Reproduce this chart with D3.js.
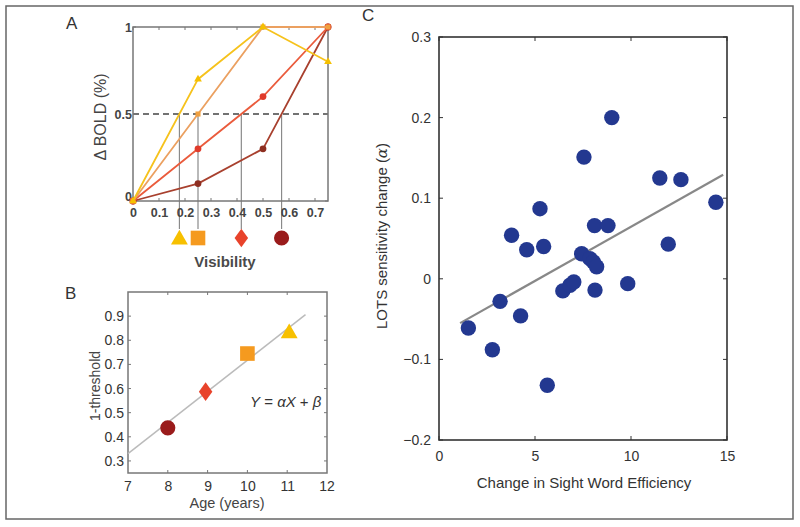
<!DOCTYPE html>
<html><head><meta charset="utf-8">
<script src="https://cdn.jsdelivr.net/npm/d3@7"></script>
<style>body{margin:0;background:#fff}svg{display:block;font-family:"Liberation Sans",Arial,sans-serif}</style>
</head><body><svg id="c" width="800" height="527"></svg>
<script>
// ---------- Data ----------
// Panel A: BOLD response vs visibility for four groups
const visLevels = [0, 0.25, 0.5, 0.75];
const seriesNames = ["age11", "age10", "age9", "age8"];
const boldAge11 = [0, 0.7, 1, 0.8];
const boldAge10 = [0, 0.5, 1, 1];
const boldAge9  = [0, 0.3, 0.6, 1];
const boldAge8  = [0, 0.1, 0.3, 1];
const criterion = 0.5;
const aXTicks = [0, 0.1, 0.2, 0.3, 0.4, 0.5, 0.6, 0.7];
const aYTicks = [0, 0.5, 1];
// Panel B: 1-threshold vs age
const ages = [11.05, 10, 8.95, 8];
const oneMinusThreshold = [0.835, 0.745, 0.587, 0.437];
const fitB = [[7, 0.33], [11.46, 0.906]];
const bXTicks = [7, 8, 9, 10, 11, 12];
const bYTicks = [0.3, 0.4, 0.5, 0.6, 0.7, 0.8, 0.9];
// Panel C: scatter
const swe = [1.53, 2.78, 3.18, 3.78, 4.25, 4.57, 5.26, 5.45, 5.64, 6.45, 6.82, 7.02, 7.43, 7.55, 7.86, 8.04, 8.1, 8.21, 8.125, 8.8, 9.0, 9.83, 11.5, 11.94, 12.6, 14.42];
const lotsChange = [-0.061, -0.088, -0.028, 0.054, -0.046, 0.036, 0.087, 0.04, -0.132, -0.015, -0.008, -0.004, 0.031, 0.151, 0.025, 0.021, 0.066, 0.015, -0.014, 0.066, 0.2, -0.006, 0.125, 0.043, 0.123, 0.095];
const fitC = [[1.1, -0.055], [14.8, 0.129]];
const cXTicks = [0, 5, 10, 15];
const cYTicks = [-0.2, -0.1, 0, 0.1, 0.2, 0.3];

const lineColors = ["#f6c21c", "#eba060", "#ea5b3c", "#a8402e"];
const markColors = ["#f7c000", "#f59a1f", "#e8432b", "#9a1b1b"];
const markShapes = [d3.symbolTriangle, d3.symbolSquare, "diamond", d3.symbolCircle];

const svg = d3.select("#c");
svg.append("rect").attr("x", 6).attr("y", 6).attr("width", 787).attr("height", 513)
  .attr("fill", "none").attr("stroke", "#666").attr("stroke-width", 1.5);

function marker(g, i, x, y, s) {
  const sh = markShapes[i];
  if (sh === "diamond") {
    g.append("path").attr("d", `M${x},${y - s * 0.62}L${x + s * 0.45},${y}L${x},${y + s * 0.62}L${x - s * 0.45},${y}Z`)
      .attr("fill", markColors[i]);
  } else {
    const area = sh === d3.symbolTriangle ? s * s * 0.55 : (sh === d3.symbolSquare ? s * s * 0.95 : s * s * 0.8);
    g.append("path").attr("d", d3.symbol().type(sh).size(area)())
      .attr("transform", `translate(${x},${y + (sh === d3.symbolTriangle ? 1.5 : 0)})`)
      .attr("fill", markColors[i]);
  }
}

function boxAxes(g, x, y, xt, yt, o) {
  const [x0, x1] = x.range(), [y0, y1] = y.range();
  const col = o.col || "#777";
  g.append("rect").attr("x", x0).attr("y", y1).attr("width", x1 - x0).attr("height", y0 - y1)
    .attr("fill", "none").attr("stroke", col).attr("stroke-width", o.sw || 1.5);
  const tl = o.tl || 3;
  xt.forEach(t => {
    g.append("line").attr("x1", x(t)).attr("x2", x(t)).attr("y1", y0).attr("y2", y0 - tl).attr("stroke", col);
    g.append("line").attr("x1", x(t)).attr("x2", x(t)).attr("y1", y1).attr("y2", y1 + tl).attr("stroke", col);
  });
  yt.forEach(t => {
    g.append("line").attr("x1", x0).attr("x2", x0 + tl).attr("y1", y(t)).attr("y2", y(t)).attr("stroke", col);
    g.append("line").attr("x1", x1).attr("x2", x1 - tl).attr("y1", y(t)).attr("y2", y(t)).attr("stroke", col);
  });
  const xa = d3.axisBottom(x).tickValues(xt).tickSize(0).tickPadding(o.xpad).tickFormat(o.xf || (d => d));
  const ya = d3.axisLeft(y).tickValues(yt).tickSize(0).tickPadding(o.ypad).tickFormat(o.yf || (d => d));
  const gx = g.append("g").attr("transform", `translate(0,${y0})`).call(xa);
  const gy = g.append("g").attr("transform", `translate(${x0},0)`).call(ya);
  [gx, gy].forEach(a => {
    a.select(".domain").remove();
    a.selectAll("text").attr("font-size", o.fs).attr("fill", o.tc || "#333")
      .attr("font-weight", o.fw || "normal").attr("font-family", "Liberation Sans, Arial, sans-serif");
  });
  return { gx, gy };
}

// ---------- Panel A ----------
const gA = svg.append("g");
const xA = d3.scaleLinear().domain([0, 0.75]).range([133, 328]);
const yA = d3.scaleLinear().domain([0, 1]).range([201, 27]);
const allA = [boldAge11, boldAge10, boldAge9, boldAge8];

// thresholds from crossing of criterion
const thresholds = allA.map(s => {
  for (let k = 1; k < s.length; k++) {
    if (s[k] >= criterion && s[k - 1] < criterion)
      return visLevels[k - 1] + (criterion - s[k - 1]) / (s[k] - s[k - 1]) * (visLevels[k] - visLevels[k - 1]);
  }
  return null;
});
thresholds.forEach(t => {
  gA.append("line").attr("x1", xA(t)).attr("x2", xA(t)).attr("y1", yA(criterion)).attr("y2", 229)
    .attr("stroke", "#8a8a8a").attr("stroke-width", 1.2);
});
gA.append("line").attr("x1", xA(0)).attr("x2", xA(0.75)).attr("y1", yA(criterion)).attr("y2", yA(criterion))
  .attr("stroke", "#444").attr("stroke-width", 1.6).attr("stroke-dasharray", "6,4");
const axA = boxAxes(gA, xA, yA, aXTicks, aYTicks, { xpad: 7, ypad: 1, fs: 12.5, fw: "bold", tc: "#444", col: "#777" });
// lift the y "0" label slightly so it clears the x "0" label
axA.gy.selectAll(".tick").filter(d => d === 0).select("text").attr("dy", "-0.05em");
const lineA = d3.line().x((d, i) => xA(visLevels[i])).y(d => yA(d));
[3, 2, 1, 0].forEach(i => {
  gA.append("path").attr("d", lineA(allA[i])).attr("fill", "none").attr("stroke", lineColors[i]).attr("stroke-width", 1.8);
  allA[i].forEach((v, k) => {
    if (i === 0 || i === 1) {
      gA.append("path").attr("d", d3.symbol().type(i === 0 ? d3.symbolTriangle : d3.symbolSquare).size(26)())
        .attr("transform", `translate(${xA(visLevels[k])},${yA(v)})`).attr("fill", i === 0 ? "#f5c000" : "#f0a040");
    } else {
      gA.append("circle").attr("cx", xA(visLevels[k])).attr("cy", yA(v)).attr("r", 3.4).attr("fill", i === 2 ? "#e03a2a" : "#8e2e20");
    }
  });
});
thresholds.forEach((t, i) => marker(gA, i, xA(t), 238, 15));
gA.append("text").attr("x", 225).attr("y", 267).attr("text-anchor", "middle").attr("font-size", 15)
  .attr("font-weight", "bold").attr("fill", "#4a4a4a").text("Visibility");
gA.append("text").attr("transform", "translate(106,117) rotate(-90)").attr("text-anchor", "middle")
  .attr("font-size", 16).attr("fill", "#444").text("Δ BOLD (%)");
svg.append("text").attr("x", 66).attr("y", 29).attr("font-size", 17).attr("fill", "#333").text("A");

// ---------- Panel B ----------
const gB = svg.append("g");
const xB = d3.scaleLinear().domain([7, 12]).range([128, 327]);
const yB = d3.scaleLinear().domain([0.25, 1]).range([473, 292]);
boxAxes(gB, xB, yB, bXTicks.slice(1, -1), bYTicks, { xpad: 8, ypad: 4, fs: 14, tc: "#333", col: "#777" });
gB.append("path").attr("d", d3.line().x(d => xB(d[0])).y(d => yB(d[1]))(fitB))
  .attr("stroke", "#bbb").attr("stroke-width", 1.5).attr("fill", "none");
ages.forEach((a, i) => marker(gB, i, xB(a), yB(oneMinusThreshold[i]), 15));
[7, 12].forEach(t => gB.append("text").attr("x", xB(t)).attr("y", yB.range()[0] + 8).attr("dy", "0.71em")
  .attr("text-anchor", "middle").attr("font-size", 14).attr("fill", "#333").text(t));
gB.append("text").attr("x", 227).attr("y", 508).attr("text-anchor", "middle").attr("font-size", 14.5).attr("fill", "#444").text("Age (years)");
gB.append("text").attr("transform", "translate(100,386) rotate(-90)").attr("text-anchor", "middle")
  .attr("font-size", 14).attr("fill", "#444").text("1-threshold");
const eq = gB.append("text").attr("x", 250).attr("y", 407).attr("font-size", 15).attr("fill", "#333");
eq.append("tspan").attr("font-style", "italic").text("Y");
eq.append("tspan").text(" = ");
eq.append("tspan").attr("font-style", "italic").text("αX");
eq.append("tspan").text(" + ");
eq.append("tspan").attr("font-style", "italic").text("β");
svg.append("text").attr("x", 65).attr("y", 299).attr("font-size", 17).attr("fill", "#333").text("B");

// ---------- Panel C ----------
const gC = svg.append("g");
const xC = d3.scaleLinear().domain([0, 15]).range([439, 727]);
const yC = d3.scaleLinear().domain([-0.2, 0.3]).range([440, 37]);
const fmtC = d => d === 0 ? "0" : d3.format(".1f")(d).replace("-", "−");
boxAxes(gC, xC, yC, cXTicks, cYTicks, { xpad: 11, ypad: 8, fs: 14, tc: "#333", col: "#333", sw: 1.6, tl: 4, yf: fmtC });
gC.append("path").attr("d", d3.line().x(d => xC(d[0])).y(d => yC(d[1]))(fitC))
  .attr("stroke", "#888").attr("stroke-width", 2.2).attr("fill", "none");
gC.selectAll("circle.pt").data(swe).enter().append("circle").attr("class", "pt")
  .attr("cx", d => xC(d)).attr("cy", (d, i) => yC(lotsChange[i])).attr("r", 7.7).attr("fill", "#233890");
gC.append("text").attr("x", 584).attr("y", 488).attr("text-anchor", "middle").attr("font-size", 15).attr("fill", "#333")
  .text("Change in Sight Word Efficiency");
const yl = gC.append("text").attr("transform", "translate(387,236) rotate(-90)").attr("text-anchor", "middle")
  .attr("font-size", 15).attr("fill", "#333");
yl.append("tspan").text("LOTS sensitivity change (");
yl.append("tspan").attr("font-style", "italic").attr("font-family", "DejaVu Serif, serif").text("α");
yl.append("tspan").text(")");
svg.append("text").attr("x", 362).attr("y", 21).attr("font-size", 17).attr("fill", "#333").text("C");
</script></body></html>
